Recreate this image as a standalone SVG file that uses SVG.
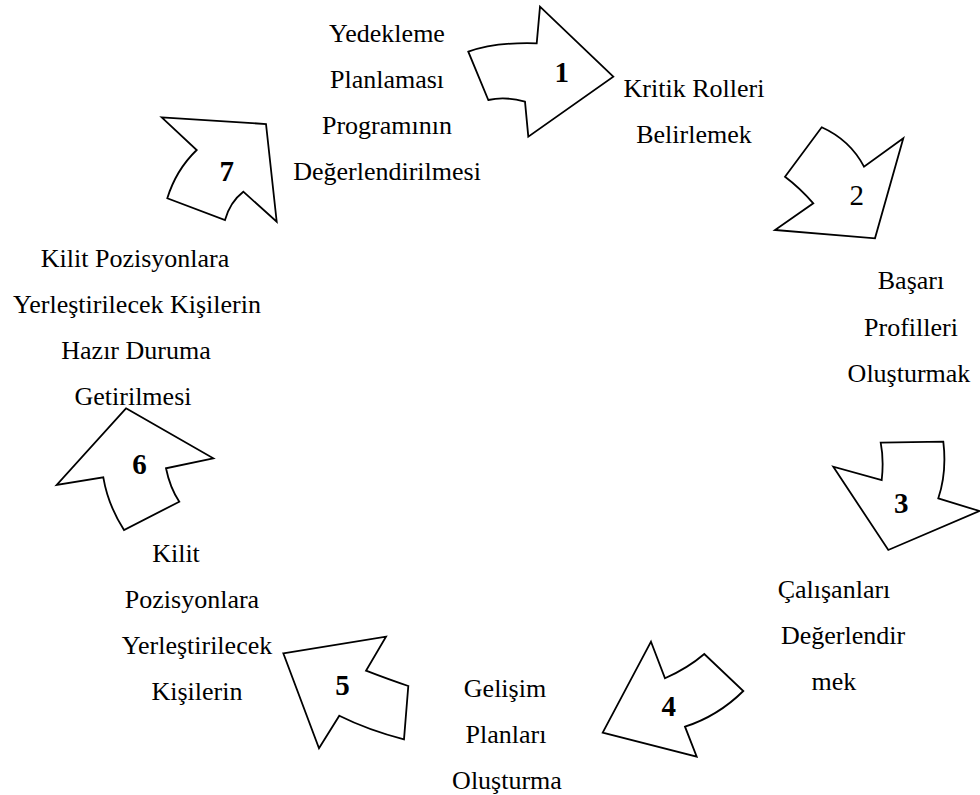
<svg xmlns="http://www.w3.org/2000/svg" width="980" height="795" viewBox="0 0 980 795">
<style>
.arr{fill:#fff;stroke:#000;stroke-width:1.8;stroke-linejoin:miter}
.t{font-family:"Liberation Serif","Times New Roman",serif;font-size:26px;fill:#000;text-anchor:middle}
.n{font-family:"Liberation Serif","Times New Roman",serif;font-size:29px;font-weight:700;fill:#000;text-anchor:middle}
.n2{font-weight:400}
</style>
<rect width="980" height="795" fill="#fff"/>
<g id="connectors"></g>
<g id="step1">
<path class="arr" d="M468.3,51.7 Q495,42 536.7,43.3 L540,6.7 L613.3,76.7 L528.3,136.7 L525,101.7 Q505,96 488.3,100 Z"/>
<text class="n" x="561.7" y="82">1</text>
</g>
<g id="step2">
<path class="arr" d="M821.7,127.3 Q850,140 864,166.7 L903.3,138.3 L875,238.3 L775,230 L813.3,203.3 Q800,188 785,176.7 Z"/>
<text class="n n2" x="856.7" y="205">2</text>
</g>
<g id="step3">
<path class="arr" d="M880.7,442.7 L943.3,441.7 Q947,472 938.3,498.3 L979.3,511 L888.3,550 L833.3,466.7 L881.7,480 Q884,460 880.7,442.7 Z"/>
<text class="n" x="901.3" y="513">3</text>
</g>
<g id="step4">
<path class="arr" d="M651,641.7 L665,678.3 Q688,668 704.3,654 L743.3,691 Q718,716 685,726.7 L696.7,756.7 L602.7,732.7 Z"/>
<text class="n" x="668.8" y="716">4</text>
</g>
<g id="step5">
<path class="arr" d="M283.3,653.3 L386,636.7 L366,670.7 Q390,680 408.3,686 L404,739.3 Q368,730 339.3,715.7 L319,748.3 Z"/>
<text class="n" x="342.5" y="695">5</text>
</g>
<g id="step6">
<path class="arr" d="M126,408.3 L213.3,458.3 L166,468.3 Q170,488 179.3,501.7 L124,530 Q108,505 103.3,477.3 L56.7,485 Z"/>
<text class="n" x="139.5" y="474">6</text>
</g>
<g id="step7">
<path class="arr" d="M161.7,117.3 L266,124 L276.7,221.7 L243.3,191.7 Q230,202 225,220 L167.3,198.3 Q176,170 196.7,150 Z"/>
<text class="n" x="226.7" y="181">7</text>
</g>
<g id="label1">
<text class="t" x="387" y="42">Yedekleme</text>
<text class="t" x="387" y="88">Planlaması</text>
<text class="t" x="387" y="134">Programının</text>
<text class="t" x="387" y="180">Değerlendirilmesi</text>
</g>
<g id="label2">
<text class="t" x="694" y="97">Kritik Rolleri</text>
<text class="t" x="694" y="143">Belirlemek</text>
</g>
<g id="label3">
<text class="t" x="911" y="289">Başarı</text>
<text class="t" x="911" y="336">Profilleri</text>
<text class="t" x="909" y="382">Oluşturmak</text>
</g>
<g id="label4">
<text class="t" x="834" y="598">Çalışanları</text>
<text class="t" x="843" y="644">Değerlendir</text>
<text class="t" x="834" y="690">mek</text>
</g>
<g id="label5">
<text class="t" x="505" y="697">Gelişim</text>
<text class="t" x="506" y="743">Planları</text>
<text class="t" x="507" y="789">Oluşturma</text>
</g>
<g id="label6">
<text class="t" x="176" y="562">Kilit</text>
<text class="t" x="192" y="608">Pozisyonlara</text>
<text class="t" x="197" y="654">Yerleştirilecek</text>
<text class="t" x="197" y="700">Kişilerin</text>
</g>
<g id="label7">
<text class="t" x="135" y="267">Kilit Pozisyonlara</text>
<text class="t" x="137" y="313">Yerleştirilecek Kişilerin</text>
<text class="t" x="136" y="359">Hazır Duruma</text>
<text class="t" x="133" y="405">Getirilmesi</text>
</g>
</svg>
